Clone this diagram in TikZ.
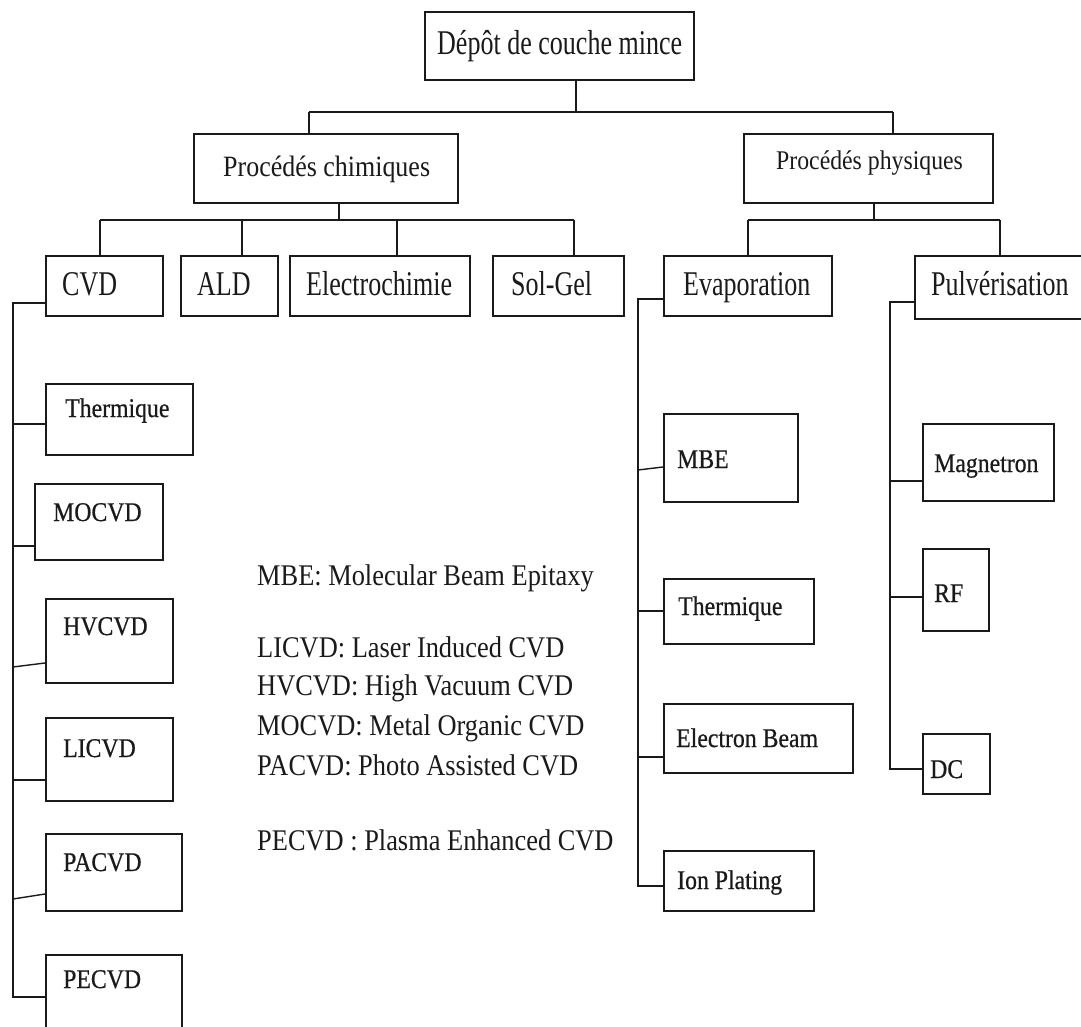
\documentclass[tikz,border=0pt]{standalone}
\usepackage{fontspec}
\setmainfont{Liberation Serif}
% narrow cuts of the serif face for the box labels
\newfontfamily\condA{Liberation Serif}[FakeStretch=0.75]
\newfontfamily\condB{Liberation Serif}[FakeStretch=0.88]
\newfontfamily\condC{Liberation Serif}[FakeStretch=0.88,FakeBold=0.6]
\usetikzlibrary{calc}
\definecolor{ink}{HTML}{1A1A1A}

\begin{document}
\begin{tikzpicture}[x=1pt,y=-1pt,
  box/.style={draw=ink, line width=2.3pt, inner sep=0pt, anchor=north west},
  conn/.style={draw=ink, line width=2.1pt},
  slant/.style={draw=ink, line width=1.4pt},
  bigtxt/.style={inner sep=0pt, anchor=base west, text=ink, font=\condA\fontsize{34.7}{40}\selectfont},
  smalltxt/.style={inner sep=0pt, anchor=base west, text=ink, font=\condC\fontsize{27}{32}\selectfont},
  legtxt/.style={inner sep=0pt, anchor=base west, text=ink, font=\condB\fontsize{30}{36}\selectfont}]

\useasboundingbox (0,0) rectangle (1081,1027);
\fill[white] (0,0) rectangle (1081,1027);
\clip (0,0) rectangle (1081,1027);

% ---------- boxes ----------
\node[box, minimum width=269pt, minimum height=68pt] (top)  at (424,11)  {};
\node[box, minimum width=264pt, minimum height=69pt] (chim) at (193,133) {};
\node[box, minimum width=249pt, minimum height=69pt] (phys) at (743,133) {};

\node[box, minimum width=117pt, minimum height=60pt] (cvd)  at (45,255)  {};
\node[box, minimum width=97pt,  minimum height=60pt] (ald)  at (180,255) {};
\node[box, minimum width=180pt, minimum height=60pt] (elec) at (289,255) {};
\node[box, minimum width=131pt, minimum height=60pt] (sol)  at (492,255) {};
\node[box, minimum width=168pt, minimum height=60pt] (evap) at (663,255) {};
\node[box, minimum width=180pt, minimum height=63pt] (pulv) at (914,255) {};

\node[box, minimum width=147pt, minimum height=71pt]  (th1)   at (45,383) {};
\node[box, minimum width=128pt, minimum height=76pt]  (mocvd) at (34,483) {};
\node[box, minimum width=127pt, minimum height=84pt]  (hvcvd) at (45,598) {};
\node[box, minimum width=127pt, minimum height=83pt]  (licvd) at (45,717) {};
\node[box, minimum width=136pt, minimum height=77pt]  (pacvd) at (45,833) {};
\node[box, minimum width=136pt, minimum height=100pt] (pecvd) at (45,954) {};

\node[box, minimum width=134pt, minimum height=88pt] (mbe) at (663,413) {};
\node[box, minimum width=150pt, minimum height=65pt] (th2) at (663,578) {};
\node[box, minimum width=189pt, minimum height=69pt] (eb)  at (663,703) {};
\node[box, minimum width=150pt, minimum height=60pt] (ion) at (663,850) {};

\node[box, minimum width=131pt, minimum height=77pt] (mag) at (922,423) {};
\node[box, minimum width=66pt,  minimum height=82pt] (rf)  at (922,548) {};
\node[box, minimum width=67pt,  minimum height=60pt] (dc)  at (922,733) {};

% ---------- box texts ----------
\node[bigtxt] (top-t)  at (437,55)  {Dépôt de couche mince};
\node[legtxt, font=\condB\fontsize{29.5}{34}\selectfont] (chim-t) at (223,177) {Procédés chimiques};
\node[legtxt, font=\condB\fontsize{27}{32}\selectfont] (phys-t) at (776,170) {Procédés physiques};

\node[bigtxt] (cvd-t)  at (62,295)  {CVD};
\node[bigtxt] (ald-t)  at (197,295) {ALD};
\node[bigtxt] (elec-t) at (306,295) {Electrochimie};
\node[bigtxt] (sol-t)  at (511,295) {Sol-Gel};
\node[bigtxt] (evap-t) at (683,295) {Evaporation};
\node[bigtxt] (pulv-t) at (931,295) {Pulvérisation};

\node[smalltxt] (th1-t)   at (65,417) {Thermique};
\node[smalltxt] (mocvd-t) at (53,521) {MOCVD};
\node[smalltxt] (hvcvd-t) at (63,635) {HVCVD};
\node[smalltxt] (licvd-t) at (63,757) {LICVD};
\node[smalltxt] (pacvd-t) at (63,871) {PACVD};
\node[smalltxt] (pecvd-t) at (63,988) {PECVD};

\node[smalltxt] (mbe-t) at (677,468) {MBE};
\node[smalltxt] (th2-t) at (678,615) {Thermique};
\node[smalltxt] (eb-t)  at (676,747) {Electron Beam};
\node[smalltxt] (ion-t) at (677,889) {Ion Plating};

\node[smalltxt] (mag-t) at (934,472) {Magnetron};
\node[smalltxt] (rf-t)  at (934,602) {RF};
\node[smalltxt] (dc-t)  at (930,778) {DC};

% ---------- abbreviations ----------
\node[legtxt] (l1) at (257,585) {MBE: Molecular Beam Epitaxy};
\node[legtxt] (l2) at (257,657) {LICVD: Laser Induced CVD};
\node[legtxt] (l3) at (257,695) {HVCVD: High Vacuum CVD};
\node[legtxt] (l4) at (257,735) {MOCVD: Metal Organic CVD};
\node[legtxt] (l5) at (257,775) {PACVD: Photo Assisted CVD};
\node[legtxt] (l6) at (257,850) {PECVD : Plasma Enhanced CVD};

% ---------- tree: first levels ----------
\coordinate (j0) at (576,112);
\coordinate (j1) at (309,112);
\coordinate (j2) at (893,112);
\draw[conn] (top.south -| j0) -- (j0);
\draw[conn] (j1) -- (j2);
\draw[conn] (j1) -- (chim.north -| j1);
\draw[conn] (j2) -- (phys.north -| j2);

\coordinate (c0) at (339,220);
\coordinate (c1) at (100,220);
\coordinate (c2) at (242,220);
\coordinate (c3) at (397,220);
\coordinate (c4) at (574,220);
\draw[conn] (chim.south -| c0) -- (c0);
\draw[conn] (c1) -- (c4);
\draw[conn] (c1) -- (cvd.north -| c1);
\draw[conn] (c2) -- (ald.north -| c2);
\draw[conn] (c3) -- (elec.north -| c3);
\draw[conn] (c4) -- (sol.north -| c4);

\coordinate (p0) at (874,220);
\coordinate (p1) at (748,220);
\coordinate (p2) at (1000,220);
\draw[conn] (phys.south -| p0) -- (p0);
\draw[conn] (p1) -- (p2);
\draw[conn] (p1) -- (evap.north -| p1);
\draw[conn] (p2) -- (pulv.north -| p2);

% ---------- CVD branch ----------
\coordinate (cvA) at ($(cvd.north west)+(0,48)$);
\coordinate (cvS) at (13,303);
\coordinate (thA) at ($(th1.north west)+(0,41)$);
\coordinate (moA) at ($(mocvd.north west)+(0,63)$);
\coordinate (hvA) at ($(hvcvd.north west)+(0,65)$);
\coordinate (liA) at ($(licvd.north west)+(0,63)$);
\coordinate (paA) at ($(pacvd.north west)+(0,61)$);
\coordinate (peA) at ($(pecvd.north west)+(0,43)$);
\draw[conn] (cvA) -- (cvS) -- (cvS |- peA) -- (peA);
\draw[conn] (cvS |- thA) -- (thA);
\draw[conn] (cvS |- moA) -- (moA);
\draw[slant] ($(cvS |- hvA)+(0,4)$) -- (hvA);
\draw[conn] (cvS |- liA) -- (liA);
\draw[slant] ($(cvS |- paA)+(0,5)$) -- (paA);

% ---------- Evaporation branch ----------
\coordinate (evA) at ($(evap.north west)+(0,44)$);
\coordinate (evS) at (638,299);
\coordinate (mbA) at ($(mbe.north west)+(0,54)$);
\coordinate (t2A) at ($(th2.north west)+(0,33)$);
\coordinate (ebA) at ($(eb.north west)+(0,54)$);
\coordinate (ioA) at ($(ion.north west)+(0,36)$);
\draw[conn] (evA) -- (evS) -- (evS |- ioA) -- (ioA);
\draw[slant] ($(evS |- mbA)+(0,3)$) -- (mbA);
\draw[slant] (evS |- t2A) -- (t2A);
\draw[conn] (evS |- ebA) -- (ebA);

% ---------- Pulverisation branch ----------
\coordinate (puA) at ($(pulv.north west)+(0,47)$);
\coordinate (puS) at (890,302);
\coordinate (maA) at ($(mag.north west)+(0,58)$);
\coordinate (rfA) at ($(rf.north west)+(0,49)$);
\coordinate (dcA) at ($(dc.north west)+(0,36)$);
\draw[conn] (puA) -- (puS) -- (puS |- dcA) -- (dcA);
\draw[conn] (puS |- maA) -- (maA);
\draw[conn] (puS |- rfA) -- (rfA);
\end{tikzpicture}
\end{document}
